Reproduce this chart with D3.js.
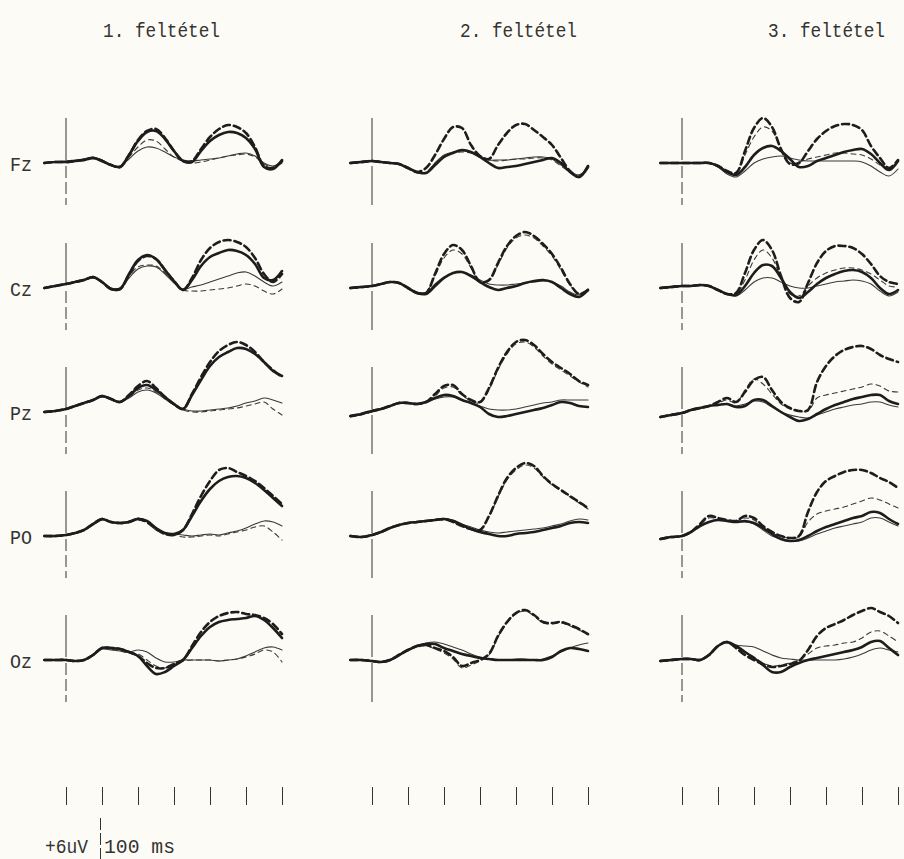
<!DOCTYPE html>
<html>
<head>
<meta charset="utf-8">
<script src="https://cdn.jsdelivr.net/npm/d3@7"></script>
<style>
body { margin: 0; background: #fcfbf5; }
svg { display: block; }
text { font-family: "Liberation Mono", "DejaVu Sans Mono", monospace; fill: #333; }
</style>
</head>
<body>
<svg id="chart" width="904" height="859"></svg>
<script>
// sample times in ms (stimulus onset = 0)
var times = [-60,-30,0,25,50,75,100,125,150,175,200,225,250,275,300,325,350,375,400,425,450,475,500,525,550,575,600];
var conditions = ["1. feltétel", "2. feltétel", "3. feltétel"];
var electrodes = ["Fz", "Cz", "Pz", "PO", "Oz"];
var tickMs = [0, 100, 200, 300, 400, 500, 600];

// uV values, each panel: [thick solid, thick dashed, thin solid, thin dashed]
var fz1 = [
  [0,0.1,0.1,0.2,0.3,0.5,0.2,-0.2,-0.4,0.8,2.2,3.1,3.2,2.4,1.2,0.2,0.1,1.2,2.2,2.8,3.1,3.0,2.5,1.4,-0.4,-0.6,0.3],
  [0,0.1,0.1,0.2,0.3,0.5,0.2,-0.2,-0.4,0.8,2.3,3.2,3.4,2.5,1.2,0.2,0.2,1.4,2.6,3.4,3.8,3.6,3.0,1.6,-0.3,-0.5,0.2],
  [0,0.1,0.2,0.3,0.4,0.6,0.3,-0.2,-0.3,0.4,1.2,1.6,1.5,1.1,0.6,0.3,0.2,0.3,0.4,0.5,0.7,0.9,1.0,0.7,0,-0.3,0.1],
  [0,0.1,0.1,0.2,0.4,0.5,0.3,-0.2,-0.3,0.6,1.6,2.3,2.2,1.4,0.6,0.2,0,0.1,0.3,0.5,0.7,0.8,0.9,0.6,-0.1,-0.4,0]
];
var fz2 = [
  [0,0.1,0.2,0.1,0,-0.1,-0.5,-0.9,-1.0,-0.2,0.6,1.0,1.3,1.1,0.6,0,-0.5,-0.4,-0.3,-0.1,0.1,0.3,0.5,0,-0.9,-1.4,-0.4],
  [0,0.1,0.2,0.1,0,-0.1,-0.5,-0.9,-0.5,0.8,2.4,3.6,3.5,1.8,0.7,0.4,1.8,3.0,3.8,3.9,3.3,2.6,1.8,0.5,-0.8,-1.4,-0.3],
  [0,0.1,0.2,0.1,0,-0.1,-0.5,-1.0,-1.0,0,0.8,1.1,1.2,1.1,0.7,0.3,0.3,0.3,0.4,0.5,0.6,0.6,0.4,-0.2,-0.8,-1.2,-0.4],
  [0,0.1,0.2,0.1,0,-0.1,-0.4,-0.9,-0.9,0,0.7,1.0,1.1,1.0,0.7,0.3,0.2,0.3,0.4,0.4,0.5,0.5,0.3,-0.3,-0.9,-1.2,-0.5]
];
var fz3 = [
  [0,0,0,0,0,0,-0.3,-0.9,-1.2,-0.4,0.8,1.5,1.7,1.2,0.4,-0.4,-0.3,0.2,0.5,0.8,1.1,1.3,1.4,0.9,0,-0.7,0.2],
  [0,0,0,0,0,0,-0.3,-0.8,-1.0,1.2,3.5,4.5,3.6,1.4,-0.1,0,1.2,2.4,3.2,3.7,3.9,3.8,3.3,1.7,0.5,-0.5,0.3],
  [0,0,0,0,0,0,-0.4,-1.1,-1.4,-0.8,0,0.4,0.6,0.7,0.5,0.3,0.2,0.2,0.2,0.2,0.2,0.2,0.1,-0.3,-0.9,-1.3,-0.6],
  [0,0,0,0,0,0,-0.3,-0.9,-1.1,0.8,2.6,3.6,3.2,1.4,0,0.1,0.4,0.6,0.8,1.0,1.0,0.9,0.8,0.4,-0.2,-0.6,0]
];
var cz1 = [
  [0,0.2,0.4,0.6,0.8,1.1,0.6,-0.1,-0.1,1.4,2.8,3.3,2.9,1.8,0.7,-0.2,0.8,2.2,3.1,3.5,3.8,3.7,3.3,2.4,1.0,0.8,1.7],
  [0,0.2,0.4,0.6,0.8,1.1,0.6,-0.1,-0.1,1.3,2.7,3.2,2.9,1.8,0.7,-0.2,1.0,2.8,4.0,4.6,4.8,4.6,4.1,3.0,1.4,0.6,1.4],
  [0,0.2,0.4,0.6,0.8,1.0,0.6,0,0,1.0,1.9,2.2,2.1,1.4,0.5,-0.1,0.1,0.3,0.6,0.9,1.2,1.5,1.6,1.2,0.6,0.2,0.6],
  [0,0.2,0.4,0.6,0.8,1.0,0.6,0,0,1.2,2.1,2.3,2.2,1.5,0.6,-0.2,-0.3,-0.3,-0.2,-0.1,0,0.2,0.4,0.2,-0.3,-0.6,-0.1]
];
var cz2 = [
  [0,0.1,0.2,0.4,0.6,0.5,0,-0.5,-0.6,0.2,1.0,1.5,1.6,1.2,0.6,0.1,-0.2,0,0.2,0.5,0.7,0.8,0.6,0,-0.6,-0.9,-0.2],
  [0,0.1,0.2,0.4,0.6,0.5,0,-0.5,-0.5,1.4,3.4,4.3,3.8,2.2,0.6,0.8,2.5,4.2,5.2,5.6,5.2,4.4,3.4,2.0,0.4,-0.6,-0.2],
  [0,0.1,0.2,0.4,0.6,0.5,0,-0.4,-0.5,0.4,1.1,1.5,1.6,1.3,0.8,0.4,0.3,0.3,0.4,0.5,0.6,0.7,0.6,0.2,-0.4,-0.7,-0.1],
  [0,0.1,0.2,0.4,0.6,0.5,0,-0.4,-0.4,1.2,3.0,3.8,3.4,2.0,0.6,0.7,2.3,4.0,5.0,5.3,5.0,4.2,3.2,1.8,0.3,-0.6,-0.3]
];
var cz3 = [
  [0,0.1,0.2,0.2,0.3,0.2,-0.2,-0.6,-0.7,0.2,1.5,2.3,2.2,1.0,-0.4,-1.0,-0.4,0.4,1.0,1.4,1.7,1.8,1.6,1.0,0,-0.6,-0.2],
  [0,0.1,0.2,0.2,0.3,0.2,-0.2,-0.6,-0.5,1.5,3.8,4.8,3.8,1.2,-1.0,-1.4,0.5,2.5,3.7,4.2,4.2,4.0,3.4,2.4,1.2,0.6,0.4],
  [0,0.1,0.2,0.2,0.3,0.2,-0.2,-0.6,-0.8,-0.2,0.6,1.0,1.0,0.6,0.2,0,0,0.2,0.4,0.6,0.7,0.8,0.7,0.4,-0.3,-0.8,-0.4],
  [0,0.1,0.2,0.2,0.3,0.2,-0.2,-0.6,-0.6,0.8,2.8,3.8,3.0,1.0,-0.6,-0.8,0.2,1.0,1.5,1.8,2.0,2.0,1.8,1.4,0.8,0.2,0.1]
];
var pz1 = [
  [0,0.1,0.3,0.6,0.9,1.2,1.6,1.3,1.0,1.6,2.4,2.7,2.2,1.5,0.8,0.3,1.7,3.2,4.6,5.5,6.0,6.4,6.3,5.8,5.0,4.1,3.6],
  [0,0.1,0.3,0.6,0.9,1.2,1.6,1.3,1.0,1.7,2.6,3.1,2.4,1.5,0.8,0.3,1.8,3.5,5.0,6.1,6.7,7.0,6.7,6.0,5.0,4.2,3.5],
  [0,0.1,0.3,0.6,0.9,1.2,1.5,1.3,1.0,1.4,2.0,2.2,1.9,1.3,0.7,0.3,0.1,0.1,0.2,0.3,0.4,0.6,0.9,1.1,1.4,1.2,0.9],
  [0,0.1,0.3,0.6,0.9,1.2,1.5,1.3,1.0,1.5,2.2,2.4,2.0,1.3,0.7,0.2,0,0,0.1,0.2,0.3,0.4,0.6,0.8,1.0,0.3,-0.3]
];
var pz2 = [
  [-0.4,-0.2,0.1,0.3,0.6,0.9,0.9,0.8,1.0,1.4,1.7,1.6,1.2,0.9,0.5,-0.2,-0.5,-0.4,-0.2,0,0.2,0.4,0.7,1.0,0.9,0.6,0.5],
  [-0.4,-0.2,0.1,0.3,0.6,0.9,0.9,0.8,1.0,1.8,2.6,2.7,1.8,1.2,1.0,2.4,4.4,6.0,7.0,7.2,6.7,5.8,5.0,4.4,3.8,3.1,2.7],
  [-0.4,-0.2,0.1,0.3,0.6,0.9,0.9,0.8,1.0,1.3,1.5,1.5,1.2,0.9,0.6,0.3,0.2,0.2,0.3,0.5,0.7,0.9,1.0,1.2,1.2,1.2,1.2],
  [-0.5,-0.3,0,0.3,0.6,0.9,0.9,0.8,1.0,1.6,2.4,2.5,1.7,1.1,0.9,2.2,4.2,5.8,6.8,7.0,6.5,5.6,4.8,4.2,3.6,3.0,2.5]
];
var pz3 = [
  [-0.5,-0.3,-0.1,0.2,0.4,0.6,0.7,0.8,0.5,0.6,1.2,1.2,0.6,0,-0.5,-0.9,-0.7,-0.2,0.3,0.7,1.0,1.3,1.5,1.7,1.7,1.1,0.8],
  [-0.5,-0.3,-0.1,0.2,0.4,0.6,1.0,1.4,1.0,2.0,3.2,3.5,2.2,1.0,0.4,0.1,0.2,3.0,4.6,5.6,6.2,6.5,6.6,6.3,5.7,5.3,5.0],
  [-0.5,-0.3,-0.1,0.2,0.4,0.6,0.7,0.8,0.6,0.8,1.1,1.0,0.5,0,-0.3,-0.5,-0.6,-0.3,0,0.3,0.5,0.7,0.8,1.0,1.0,0.7,0.5],
  [-0.5,-0.3,-0.1,0.2,0.4,0.6,0.9,1.2,0.9,2.2,3.3,2.8,1.8,0.8,0.3,0.1,0.1,1.4,1.7,1.9,2.1,2.3,2.5,2.8,2.6,2.1,2.0]
];
var po1 = [
  [0,0,0.1,0.3,0.6,1.2,1.7,1.4,1.3,1.4,1.7,1.5,0.8,0.3,0.2,0.6,2.0,3.5,4.7,5.5,5.9,6.0,5.8,5.3,4.6,3.8,3.0],
  [0,0,0.1,0.3,0.6,1.2,1.7,1.4,1.3,1.4,1.7,1.4,0.7,0.2,0.1,0.6,2.2,4.0,5.5,6.6,6.8,6.4,6.0,5.5,4.8,4.0,3.2],
  [0,0,0.1,0.3,0.6,1.1,1.6,1.4,1.3,1.5,1.8,1.5,0.8,0.3,0.2,0.1,0,0.1,0.2,0.1,0.3,0.5,0.8,1.2,1.5,1.4,1.0],
  [0,0,0.1,0.3,0.6,1.1,1.6,1.4,1.2,1.4,1.6,1.3,0.6,0.2,0.1,-0.1,-0.1,0,0.1,0,0.2,0.4,0.6,0.9,1.0,0.4,-0.4]
];
var po2 = [
  [0,-0.1,0.1,0.4,0.8,1.1,1.3,1.4,1.5,1.6,1.7,1.5,1.1,0.7,0.4,0.2,0,0,0.2,0.3,0.4,0.6,0.8,1.0,1.3,1.4,1.3],
  [0,-0.1,0.1,0.4,0.8,1.1,1.3,1.4,1.5,1.6,1.7,1.4,1.0,0.7,0.6,2.0,4.0,5.8,6.8,7.3,7.0,6.0,5.2,4.6,4.0,3.4,2.8],
  [0,-0.1,0.1,0.4,0.8,1.1,1.3,1.4,1.5,1.6,1.7,1.6,1.2,0.9,0.6,0.4,0.3,0.4,0.5,0.6,0.7,0.8,1.0,1.2,1.5,1.7,1.6],
  [0,-0.1,0.1,0.4,0.8,1.1,1.3,1.4,1.5,1.6,1.6,1.4,1.0,0.7,0.6,1.9,3.9,5.6,6.6,7.1,6.8,5.9,5.1,4.5,3.9,3.3,2.7]
];
var po3 = [
  [-0.3,-0.1,0,0.4,1.0,1.4,1.6,1.5,1.4,1.5,1.3,0.8,0.2,-0.3,-0.5,-0.4,0,0.5,0.9,1.2,1.5,1.8,2.0,2.4,2.3,1.7,1.2],
  [-0.3,-0.1,0,0.4,1.2,2.0,1.8,1.6,1.5,2.0,1.8,1.0,0.4,0,-0.2,0,2.4,4.4,5.5,6.0,6.4,6.6,6.6,6.3,5.8,5.4,4.8],
  [-0.3,-0.1,0,0.4,1.0,1.4,1.6,1.5,1.4,1.4,1.2,0.6,0,-0.3,-0.5,-0.5,-0.2,0.2,0.5,0.8,1.0,1.2,1.4,1.8,1.8,1.4,1.0],
  [-0.3,-0.1,0,0.4,1.1,1.8,1.7,1.6,1.5,1.8,1.6,0.9,0.3,0,-0.2,-0.1,1.4,2.2,2.5,2.7,2.9,3.2,3.5,3.8,3.6,3.2,2.8]
];
var oz1 = [
  [0,0,0,-0.1,0,0.5,1.2,1.2,1.1,0.8,0.4,-0.6,-1.4,-1.2,-0.6,0,1.2,2.4,3.3,3.8,4.0,4.1,4.2,4.4,4.0,3.2,2.2],
  [0,0,0,-0.1,0,0.5,1.2,1.2,1.1,0.8,0.4,-0.3,-0.8,-0.8,-0.4,0,1.4,2.8,3.8,4.4,4.7,4.8,4.6,4.5,4.2,3.6,2.6],
  [0,0,0,-0.1,0,0.5,1.1,1.0,0.9,0.8,1.0,0.8,0.2,-0.2,-0.2,0,0,0,0,-0.1,0,0.1,0.4,0.8,1.2,1.3,1.0],
  [0,0,0,-0.1,0,0.5,1.2,1.1,0.9,0.7,0.6,0,-0.6,-0.8,-0.4,-0.1,0,0,0,-0.1,0,0.1,0.3,0.6,1.0,0.8,-0.2]
];
var oz2 = [
  [0,0,-0.1,-0.2,0,0.5,1.0,1.4,1.6,1.6,1.2,0.9,0.6,0.4,0.2,0.1,0,0,0,0,0,0,0.3,0.9,1.2,1.1,0.9],
  [0,0,-0.1,-0.2,0,0.5,1.0,1.4,1.5,1.2,0.9,0.3,-0.6,-0.3,0,0.6,2.4,3.8,4.7,5.0,4.5,3.8,3.7,3.8,3.5,3.1,2.6],
  [0,0,-0.1,-0.2,0,0.5,1.0,1.4,1.7,1.8,1.6,1.3,1.0,0.6,0.3,0.1,0,0,0.1,0.1,0,0.1,0.4,0.8,1.2,1.5,1.7],
  [0,0,-0.1,-0.2,0,0.5,1.0,1.3,1.4,1.1,0.7,0.1,-0.8,-0.5,-0.1,0.5,2.3,3.7,4.6,4.9,4.4,3.7,3.6,3.7,3.4,3.0,2.5]
];
var oz3 = [
  [-0.1,0,0.1,0.1,0,0.5,1.4,1.8,1.4,0.8,0.2,-0.5,-1.2,-1.2,-0.7,-0.3,0,0.2,0.4,0.6,0.8,1.0,1.3,1.8,1.9,1.2,0.5],
  [-0.1,0,0.1,0.1,0,0.5,1.4,1.8,1.2,0.5,0,-0.4,-0.7,-0.6,-0.4,-0.1,1.0,2.4,3.2,3.6,4.0,4.5,4.9,5.2,4.8,4.4,3.7],
  [-0.1,0,0.1,0.1,0,0.5,1.4,1.8,1.5,1.4,1.3,0.9,0.5,0.2,0.1,0,0,0,0,0,0.1,0.3,0.6,1.0,1.2,1.0,0.8],
  [-0.1,0,0.1,0.1,0,0.5,1.4,1.7,1.3,0.8,0.3,-0.3,-0.6,-0.5,-0.3,0,0.6,1.2,1.4,1.5,1.7,1.8,2.2,2.8,2.9,2.4,1.8]
];

var panels = [
  [fz1, fz2, fz3],
  [cz1, cz2, cz3],
  [pz1, pz2, pz3],
  [po1, po2, po3],
  [oz1, oz2, oz3]
];

var onsets = [66, 372, 682];          // x of stimulus onset per column
var baselines = [163, 288, 412, 536, 660];
var pxPerMs = 0.36;
var pxPerUv = 10;

// thick solid, thick dashed, thin solid, thin dashed
var traceStyle = [
  {w: 2.6, dash: null, col: "#1d1d1d"},
  {w: 2.6, dash: "7,4", col: "#1d1d1d"},
  {w: 1.1, dash: null, col: "#3b3b3b"},
  {w: 1.1, dash: "5,4", col: "#3b3b3b"}
];
var drawOrder = [2, 3, 0, 1];

var svg = d3.select("#chart");
svg.append("rect").attr("width", 904).attr("height", 859).attr("fill", "#fcfbf5");

// condition titles
var titleX = [103, 460, 768];
svg.selectAll("text.title")
  .data(conditions)
  .enter().append("text")
  .attr("class", "title")
  .attr("x", function(d, i) { return titleX[i]; })
  .attr("y", 37)
  .attr("font-size", 20)
  .attr("textLength", 117)
  .attr("lengthAdjust", "spacingAndGlyphs")
  .text(function(d) { return d; });

// electrode labels
svg.selectAll("text.elec")
  .data(electrodes)
  .enter().append("text")
  .attr("class", "elec")
  .attr("x", 10)
  .attr("y", function(d, i) { return baselines[i] + 8; })
  .attr("font-size", 21)
  .attr("textLength", 22)
  .attr("lengthAdjust", "spacingAndGlyphs")
  .text(function(d) { return d; });

onsets.forEach(function(onset, c) {
  var x = d3.scaleLinear()
    .domain([0, 600])
    .range([onset, onset + 600 * pxPerMs]);

  baselines.forEach(function(base, r) {
    var y = d3.scaleLinear()
      .domain([0, 1])
      .range([base, base - pxPerUv]);

    var g = svg.append("g");

    // stimulus onset marker
    g.append("line")
      .attr("x1", x(0)).attr("x2", x(0))
      .attr("y1", base - 45).attr("y2", base - 3)
      .attr("stroke", "#333").attr("stroke-width", 1);
    g.append("line")
      .attr("x1", x(0)).attr("x2", x(0))
      .attr("y1", base + 3).attr("y2", base + 42)
      .attr("stroke", "#333").attr("stroke-width", 1)
      .attr("stroke-dasharray", c == 1 ? null : "12,4");

    var line = d3.line()
      .x(function(d, i) { return x(times[i]); })
      .y(function(d) { return y(d); })
      .curve(d3.curveCatmullRom.alpha(0.5));

    var traces = panels[r][c];
    drawOrder.forEach(function(k) {
      var s = traceStyle[k];
      g.append("path")
        .datum(traces[k])
        .attr("d", line)
        .attr("fill", "none")
        .attr("stroke", s.col)
        .attr("stroke-width", s.w)
        .attr("stroke-linejoin", "round")
        .attr("stroke-linecap", "round")
        .attr("stroke-dasharray", s.dash);
    });
  });

  // 100 ms ticks under each column
  var axis = d3.axisBottom(x)
    .tickValues(tickMs)
    .tickSize(18)
    .tickFormat("");
  var ax = svg.append("g")
    .attr("transform", "translate(0,787)")
    .call(axis);
  ax.select(".domain").remove();
  ax.selectAll(".tick line").attr("stroke", "#333").attr("stroke-width", 1);
});

// calibration: +6 uV / 100 ms
var calY = d3.scaleLinear().domain([0, 6]).range([818, 818 + 6 * pxPerUv]);
svg.append("line")
  .attr("x1", 100.5).attr("x2", 100.5)
  .attr("y1", calY(0)).attr("y2", calY(6))
  .attr("stroke", "#333").attr("stroke-width", 1)
  .attr("stroke-dasharray", "12,3");
svg.append("text")
  .attr("x", 45).attr("y", 853)
  .attr("font-size", 20)
  .attr("textLength", 43)
  .attr("lengthAdjust", "spacingAndGlyphs")
  .text("+6uV");
svg.append("text")
  .attr("x", 104).attr("y", 853)
  .attr("font-size", 20)
  .attr("textLength", 71)
  .attr("lengthAdjust", "spacingAndGlyphs")
  .text("100 ms");
</script>
</body>
</html>
